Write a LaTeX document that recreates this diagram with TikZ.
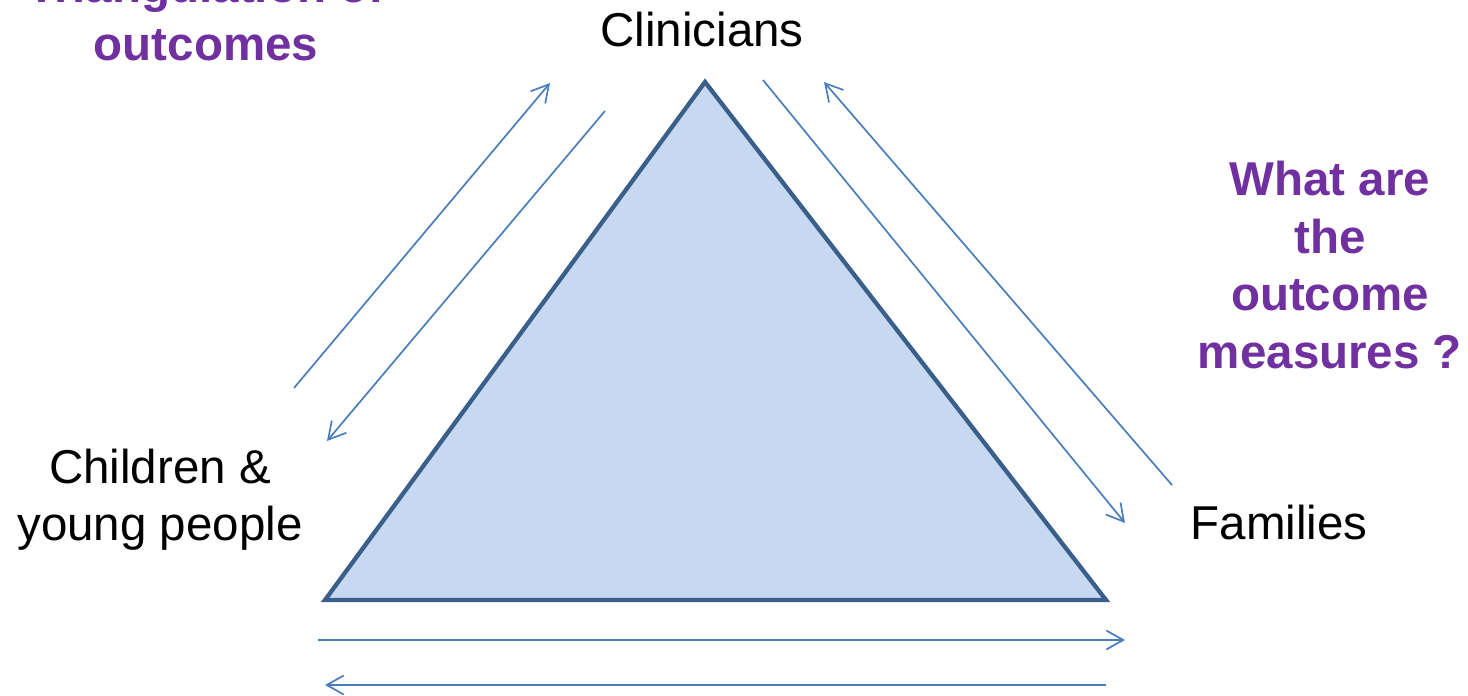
\documentclass[tikz,border=0pt]{standalone}
\usepackage{fontspec}
\setmainfont{Liberation Sans}
\usetikzlibrary{arrows.meta}
\definecolor{trifill}{HTML}{C6D9F1}
\definecolor{tridraw}{HTML}{3A5F8B}
\definecolor{arrowblue}{HTML}{4A7EBB}
\definecolor{purpletxt}{HTML}{7030A0}
\tikzset{
  lbl/.style={inner sep=0pt, align=center, font=\fontsize{47.5}{57}\selectfont, text=black},
  plbl/.style={lbl, text=purpletxt, font=\fontsize{47.5}{57.5}\selectfont\bfseries},
  flow/.style={draw=arrowblue, line width=1.7pt, -{Straight Barb[length=17pt,width=19pt,line width=1.7pt]}},
  tri/.style={fill=trifill, draw=tridraw, line width=4.3pt, line join=miter}
}
\begin{document}
\begin{tikzpicture}[x=1pt,y=-1pt]
\useasboundingbox (0,0) rectangle (1468,696);
\clip (0,0) rectangle (1468,696);
% triangle
\coordinate (ta) at (705,82);
\coordinate (tl) at (325,600);
\coordinate (tr) at (1106,600);
\draw[tri] (ta) -- (tl) -- (tr) -- cycle;
% labels (anchor=base is the last line's baseline)
\node[lbl, anchor=base] (cl) at (702,46) {Clinicians};
\node[lbl, anchor=base] (cy) at (160,540) {Children \&\\young people};
\node[lbl, anchor=base] (fa) at (1279,539) {Families};
\node[plbl, anchor=base] (wq) at (1330,368) {What are\\the\\outcome\\measures ?};
\node[plbl, anchor=base] (tg) at (206,60) {Triangulation of\\outcomes};
% arrow end points
\coordinate (a1s) at (294,388); \coordinate (a1e) at (550,83);
\coordinate (a2s) at (605,111); \coordinate (a2e) at (327,441);
\coordinate (a3s) at (763,80);  \coordinate (a3e) at (1125,523);
\coordinate (a4s) at (1172,485); \coordinate (a4e) at (824,82);
\coordinate (a5s) at (318,640); \coordinate (a5e) at (1125,640);
\coordinate (a6s) at (1106,685); \coordinate (a6e) at (325,685);
\draw[flow] (a1s) -- (a1e);
\draw[flow] (a2s) -- (a2e);
\draw[flow] (a3s) -- (a3e);
\draw[flow] (a4s) -- (a4e);
\draw[flow] (a5s) -- (a5e);
\draw[flow] (a6s) -- (a6e);
\end{tikzpicture}
\end{document}
